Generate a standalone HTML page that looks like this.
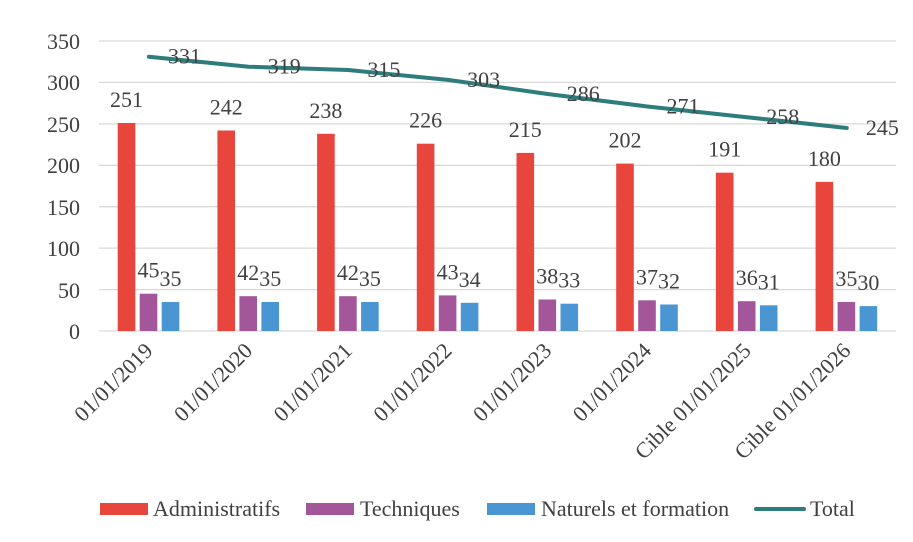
<!DOCTYPE html>
<html><head><meta charset="utf-8"><style>
body{margin:0;background:#fff;}
svg text{font-family:"Liberation Serif",serif;fill:#404040;}
</style></head><body>
<svg width="913" height="537" xmlns="http://www.w3.org/2000/svg">
<g stroke="#d9d9d9" stroke-width="1.3">
<line x1="99" x2="896" y1="41" y2="41"/><line x1="99" x2="896" y1="82.4" y2="82.4"/>
<line x1="99" x2="896" y1="123.9" y2="123.9"/><line x1="99" x2="896" y1="165.3" y2="165.3"/>
<line x1="99" x2="896" y1="206.7" y2="206.7"/><line x1="99" x2="896" y1="248.1" y2="248.1"/>
<line x1="99" x2="896" y1="289.6" y2="289.6"/><line x1="99" x2="896" y1="331" y2="331"/>
</g>
<g font-size="22" text-anchor="end">
<text x="80" y="49">350</text><text x="80" y="90">300</text><text x="80" y="132">250</text>
<text x="80" y="173">200</text><text x="80" y="215">150</text><text x="80" y="256">100</text>
<text x="80" y="298">50</text><text x="80" y="339">0</text>
</g>
<g fill="#e8453c">
<rect x="117.7" y="123.0" width="17.6" height="208"/>
<rect x="217.4" y="130.5" width="17.6" height="200.5"/>
<rect x="317.1" y="133.8" width="17.6" height="197.2"/>
<rect x="416.8" y="143.7" width="17.6" height="187.3"/>
<rect x="516.5" y="152.9" width="17.6" height="178.1"/>
<rect x="616.2" y="163.6" width="17.6" height="167.4"/>
<rect x="715.9" y="172.7" width="17.6" height="158.3"/>
<rect x="815.6" y="181.9" width="17.6" height="149.1"/>
</g>
<g fill="#a3579a">
<rect x="139.7" y="293.7" width="17.6" height="37.3"/>
<rect x="239.4" y="296.2" width="17.6" height="34.8"/>
<rect x="339.1" y="296.2" width="17.6" height="34.8"/>
<rect x="438.8" y="295.4" width="17.6" height="35.6"/>
<rect x="538.5" y="299.5" width="17.6" height="31.5"/>
<rect x="638.2" y="300.3" width="17.6" height="30.7"/>
<rect x="737.9" y="301.2" width="17.6" height="29.8"/>
<rect x="837.6" y="302.0" width="17.6" height="29.0"/>
</g>
<g fill="#4a96d2">
<rect x="161.7" y="302.0" width="17.6" height="29.0"/>
<rect x="261.4" y="302.0" width="17.6" height="29.0"/>
<rect x="361.1" y="302.0" width="17.6" height="29.0"/>
<rect x="460.8" y="302.8" width="17.6" height="28.2"/>
<rect x="560.5" y="303.7" width="17.6" height="27.3"/>
<rect x="660.2" y="304.5" width="17.6" height="26.5"/>
<rect x="759.9" y="305.3" width="17.6" height="25.7"/>
<rect x="859.6" y="306.1" width="17.6" height="24.9"/>
</g>
<polyline fill="none" stroke="#2e7d7d" stroke-width="4" stroke-linecap="round" stroke-linejoin="round" points="148.85,56.7 248.55,66.7 348.25,70 447.95,79.9 547.65,94 647.35,106.5 747.05,117.2 846.75,128"/>
<g font-size="22" text-anchor="middle">
<text x="126.5" y="107">251</text><text x="226.2" y="114.5">242</text><text x="325.9" y="117.8">238</text><text x="425.6" y="127.7">226</text>
<text x="525.3" y="136.9">215</text><text x="625" y="147.6">202</text><text x="724.7" y="156.7">191</text><text x="824.4" y="165.9">180</text>
<text x="148.5" y="277.7">45</text><text x="248.2" y="280.2">42</text><text x="347.9" y="280.2">42</text><text x="447.6" y="279.4">43</text>
<text x="547.3" y="283.5">38</text><text x="647" y="284.3">37</text><text x="746.7" y="285.2">36</text><text x="846.4" y="286">35</text>
<text x="170.5" y="286">35</text><text x="270.2" y="286">35</text><text x="369.9" y="286">35</text><text x="469.6" y="286.8">34</text>
<text x="569.3" y="287.7">33</text><text x="669" y="288.5">32</text><text x="768.7" y="289.3">31</text><text x="868.4" y="290.1">30</text>
</g>
<g font-size="22">
<text x="168" y="63.7">331</text><text x="267.7" y="73.7">319</text><text x="367.4" y="77">315</text><text x="467.1" y="86.9">303</text>
<text x="566.8" y="101">286</text><text x="666.5" y="113.5">271</text><text x="766.2" y="124.2">258</text><text x="865.9" y="135">245</text>
</g>
<g font-size="22" text-anchor="end">
<text x="154" y="352" transform="rotate(-45 154 352)">01/01/2019</text>
<text x="253.7" y="352" transform="rotate(-45 253.7 352)">01/01/2020</text>
<text x="353.4" y="352" transform="rotate(-45 353.4 352)">01/01/2021</text>
<text x="453.1" y="352" transform="rotate(-45 453.1 352)">01/01/2022</text>
<text x="552.8" y="352" transform="rotate(-45 552.8 352)">01/01/2023</text>
<text x="652.5" y="352" transform="rotate(-45 652.5 352)">01/01/2024</text>
<text x="752.2" y="352" transform="rotate(-45 752.2 352)">Cible 01/01/2025</text>
<text x="851.9" y="352" transform="rotate(-45 851.9 352)">Cible 01/01/2026</text>
</g>
<g font-size="22">
<rect x="100" y="503" width="48" height="12" fill="#e8453c"/><text x="153" y="516">Administratifs</text>
<rect x="306" y="503" width="48" height="12" fill="#a3579a"/><text x="360" y="516">Techniques</text>
<rect x="487" y="503" width="48" height="12" fill="#4a96d2"/><text x="541" y="516">Naturels et formation</text>
<line x1="756" x2="804" y1="509" y2="509" stroke="#2e7d7d" stroke-width="4" stroke-linecap="round"/><text x="810" y="516">Total</text>
</g>
</svg>
</body></html>
